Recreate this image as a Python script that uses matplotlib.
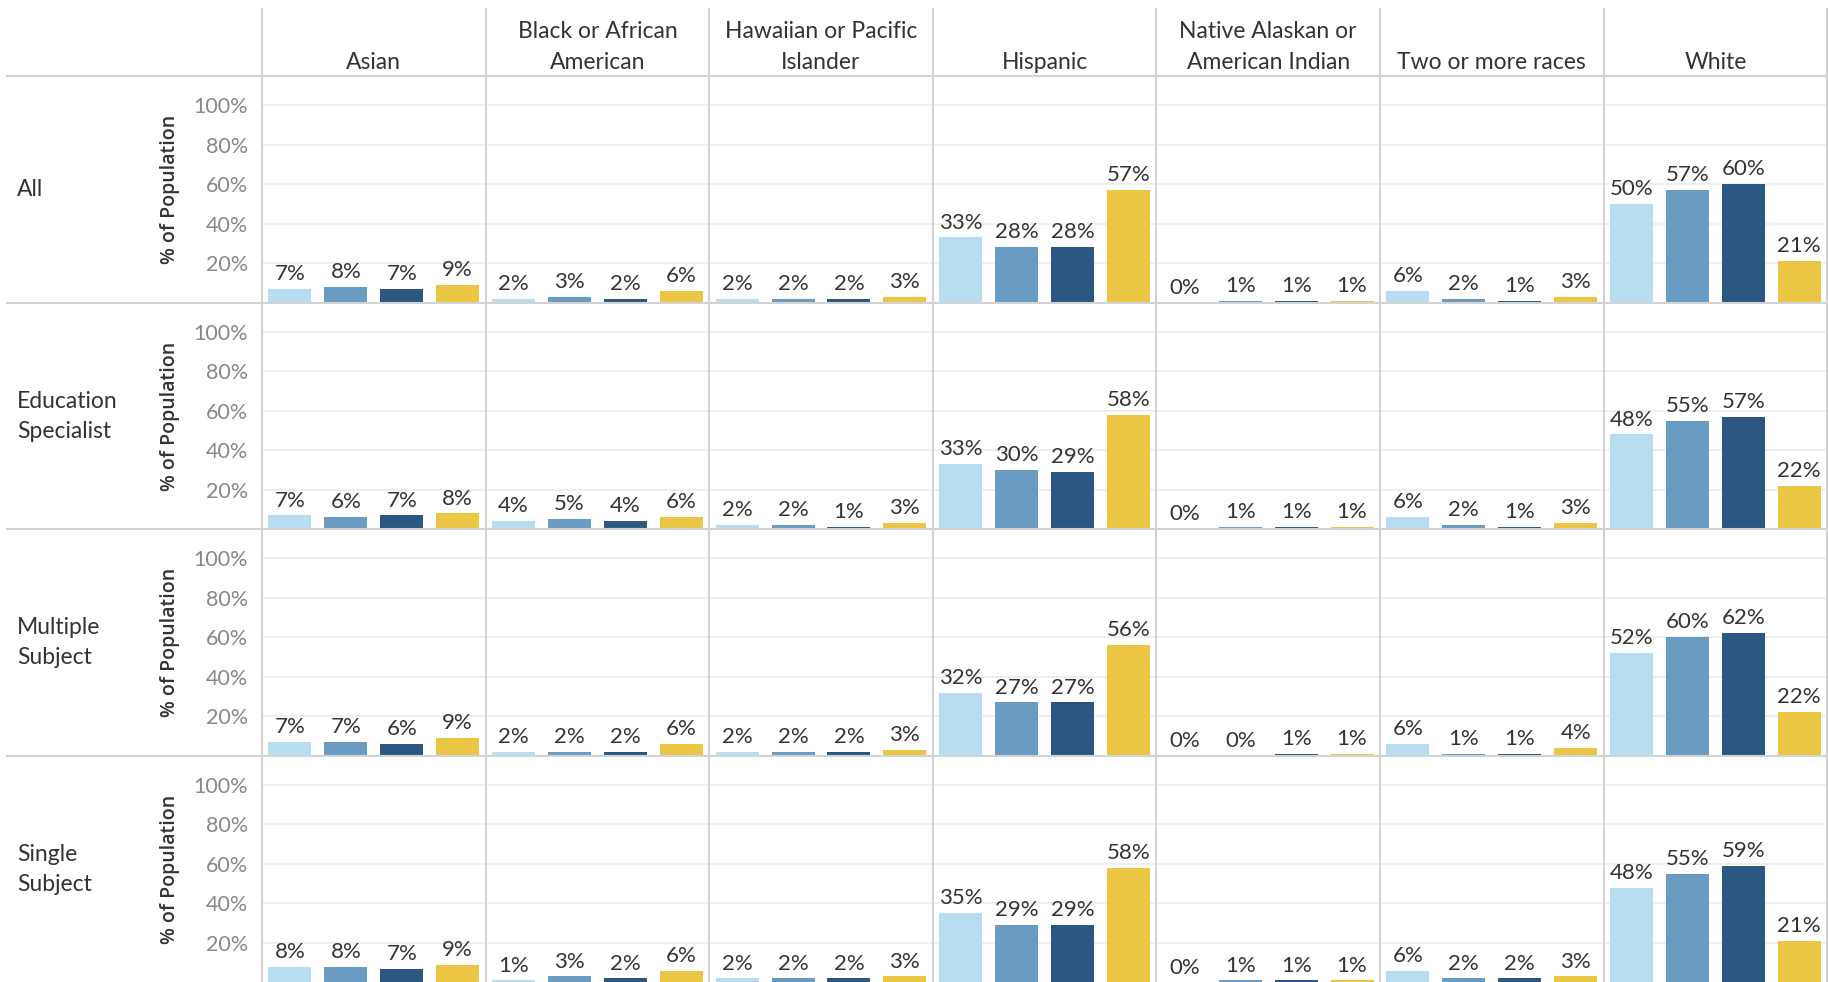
import matplotlib
matplotlib.use("Agg")
import matplotlib.pyplot as plt
from matplotlib.lines import Line2D

plt.rcParams['font.family'] = ['Lato', 'DejaVu Sans']

# column facets (race) and row facets (credential)
races = ["Asian", "Black or African\nAmerican", "Hawaiian or Pacific\nIslander",
         "Hispanic", "Native Alaskan or\nAmerican Indian", "Two or more races", "White"]
credentials = ["All", "Education\nSpecialist", "Multiple\nSubject", "Single\nSubject"]
series_colors = ["#b9ddf0", "#6a9bc3", "#2b5782", "#eac644"]

# % of population, one list of 4 series per race
all_pct = [[7, 8, 7, 9], [2, 3, 2, 6], [2, 2, 2, 3], [33, 28, 28, 57],
           [0, 1, 1, 1], [6, 2, 1, 3], [50, 57, 60, 21]]
edspec_pct = [[7, 6, 7, 8], [4, 5, 4, 6], [2, 2, 1, 3], [33, 30, 29, 58],
              [0, 1, 1, 1], [6, 2, 1, 3], [48, 55, 57, 22]]
multi_pct = [[7, 7, 6, 9], [2, 2, 2, 6], [2, 2, 2, 3], [32, 27, 27, 56],
             [0, 0, 1, 1], [6, 1, 1, 4], [52, 60, 62, 22]]
single_pct = [[8, 8, 7, 9], [1, 3, 2, 6], [2, 2, 2, 3], [35, 29, 29, 58],
              [0, 1, 1, 1], [6, 2, 2, 3], [48, 55, 59, 21]]
rows_data = [all_pct, edspec_pct, multi_pct, single_pct]
yticks = [20, 40, 60, 80, 100]

W, H = 1828, 982
fig = plt.figure(figsize=(W / 100, H / 100), dpi=100)

left0, col_w = 262, 223.6
top0, row_h = 76, 226.6
ytop = 114.7
line_col = "#d3d3d3"
text_col = "#333333"

for r, row in enumerate(rows_data):
    for c, vals in enumerate(row):
        ax = fig.add_axes([(left0 + c * col_w) / W,
                           1 - (top0 + (r + 1) * row_h) / H,
                           col_w / W, row_h / H])
        x = range(len(vals))
        ax.bar(x, vals, width=0.77, color=series_colors, zorder=2)
        for i, v in enumerate(vals):
            ax.annotate(f"{v}%", (i, v), xytext=(0, 3.5), textcoords="offset points",
                        ha="center", va="bottom", fontsize=16, color=text_col)
        ax.set_xlim(-0.5, 3.5)
        ax.set_ylim(0, ytop)
        ax.set_xticks([])
        ax.set_yticks(yticks)
        ax.yaxis.grid(True, color="#efefef", lw=1.5)
        ax.set_axisbelow(True)
        ax.tick_params(axis="y", length=0, pad=10, labelsize=15.5, labelcolor="#888888")
        if c == 0:
            ax.set_yticklabels([f"{t}%" for t in yticks])
        else:
            ax.set_yticklabels([])
        for s in ax.spines.values():
            s.set_visible(False)

    yc = top0 + (r + 0.5) * row_h
    fig.text(170 / W, 1 - yc / H, "% of Population", rotation=90, ha="center",
             va="center", fontsize=14, color=text_col, weight="semibold",
             family=["Open Sans", "DejaVu Sans"])
    lines = credentials[r].split("\n")
    n = len(lines)
    for k, ln in enumerate(lines):
        yb = yc + (k - (n - 1) / 2) * 30 + 7
        fig.text(17 / W, 1 - yb / H, ln, ha="left", va="baseline",
                 fontsize=16.5, color=text_col)

# column headers
for c, name in enumerate(races):
    xc = (left0 + (c + 0.5) * col_w) / W
    lines = name.split("\n")
    for k, ln in enumerate(reversed(lines)):
        yb = 69 - k * 30.5
        fig.text(xc, 1 - yb / H, ln, ha="center", va="baseline",
                 fontsize=16.5, color=text_col)

# separators
for c in range(len(races) + 1):
    xx = min(left0 + c * col_w, W - 1.5) / W
    fig.add_artist(Line2D([xx, xx], [0, 1 - 9 / H], color=line_col, lw=1.5))
for r in range(len(credentials)):
    yy = 1 - (top0 + r * row_h) / H
    fig.add_artist(Line2D([7 / W, 1], [yy, yy], color=line_col, lw=1.5))

fig.savefig("out.png", dpi=100, facecolor="white")
